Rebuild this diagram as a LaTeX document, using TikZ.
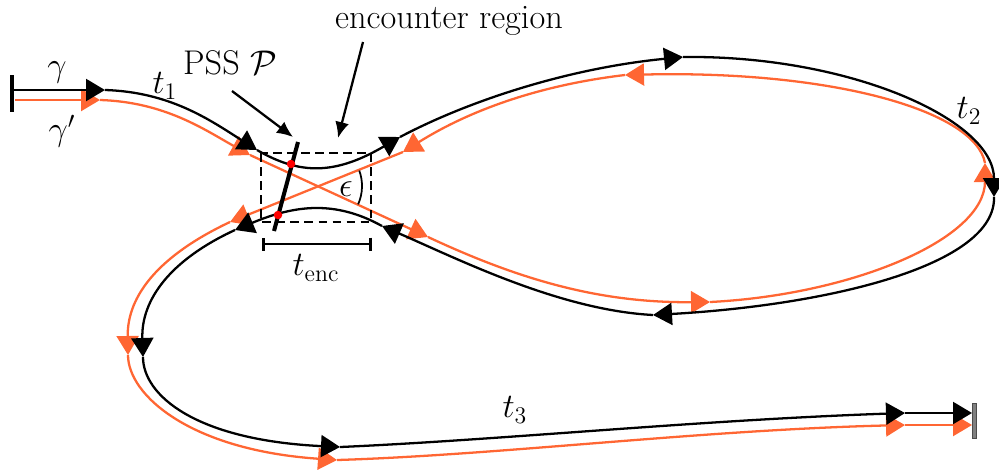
\documentclass[tikz,border=0pt]{standalone}
\usepackage{amsmath,amssymb}
\usepackage{tikz}
\usetikzlibrary{arrows.meta,positioning,calc}

\definecolor{orbitorange}{RGB}{255,102,51}

\begin{document}
\begin{tikzpicture}[
    x=0.02cm, y=-0.02cm,
    lbl/.style={font=\LARGE, scale=1.13},
    orbit/.style={
        line width=1.3pt,
        -{Triangle[length=0.38cm,width=0.44cm]}
    },
    gam/.style={orbit, draw=black},
    gamp/.style={orbit, draw=orbitorange},
    pointer/.style={
        line width=1.3pt,
        -{Latex[length=0.32cm,width=0.28cm]}
    },
    pssdot/.style={
        circle,
        fill=red,
        inner sep=0pt,
        minimum size=0.17cm
    }
]

\useasboundingbox (0,0) rectangle (999,471);

% ------------------------------------------------
% Points of gamma' (orange)
% ------------------------------------------------

\coordinate (o0) at (15,100);
\coordinate (o1) at (100,100);
\coordinate (o2) at (250,155);
\coordinate (o3) at (428,237);
\coordinate (o4) at (710,302);
\coordinate (o5) at (985,163);
\coordinate (o6) at (625,75);
\coordinate (o7) at (403,152);
\coordinate (o8) at (230,222);
\coordinate (o9) at (128,355);
\coordinate (o10) at (337,460);
\coordinate (o11) at (905,425);
\coordinate (o12) at (972,425);

% ------------------------------------------------
% Points of gamma (black)
% ------------------------------------------------

\coordinate (b0) at (12,90);
\coordinate (b1) at (105,90);
\coordinate (b2) at (257,150);
\coordinate (b3) at (400,137);
\coordinate (b4) at (683,57);
\coordinate (b5) at (994,197);
\coordinate (b6) at (653,315);
\coordinate (b7) at (382,226);
\coordinate (b8) at (235,230);
\coordinate (b9) at (143,357);
\coordinate (b10) at (340,447);
\coordinate (b11) at (905,413);
\coordinate (b12) at (972,413);

% ------------------------------------------------
% Orbit gamma'
% ------------------------------------------------

\draw[gamp] (o0) -- (o1);
\draw[gamp] (o1) .. controls (165,102) and (205,130) .. (o2);
\draw[gamp] (o2) -- (o3);
\draw[gamp] (o3) .. controls (520,280) and (600,303) .. (o4);
\draw[gamp] (o4) .. controls (850,295) and (985,240) .. (o5);
\draw[gamp] (o5) .. controls (975,110) and (830,70) .. (o6);
\draw[gamp] (o6) .. controls (540,85) and (470,110) .. (o7);
\draw[gamp] (o7) -- (o8);
\draw[gamp] (o8) .. controls (160,255) and (127,295) .. (o9);
\draw[gamp] (o9) .. controls (128,395) and (190,450) .. (o10);
\draw[gamp] (o10) .. controls (500,455) and (700,430) .. (o11);
\draw[gamp] (o11) -- (o12);

% ------------------------------------------------
% Orbit gamma
% ------------------------------------------------

\draw[gam] (b0) -- (b1);
\draw[gam] (b1) .. controls (170,92) and (210,120) .. (b2);
\draw[gam] (b2) .. controls (300,175) and (335,175) .. (b3);
\draw[gam] (b3) .. controls (470,100) and (570,68) .. (b4);
\draw[gam] (b4) .. controls (850,55) and (994,120) .. (b5);
\draw[gam] (b5) .. controls (996,265) and (830,305) .. (b6);
\draw[gam] (b6) .. controls (560,310) and (460,260) .. (b7);
\draw[gam] (b7) .. controls (335,200) and (295,205) .. (b8);
\draw[gam] (b8) .. controls (170,260) and (141,300) .. (b9);
\draw[gam] (b9) .. controls (143,395) and (195,440) .. (b10);
\draw[gam] (b10) .. controls (500,440) and (700,420) .. (b11);
\draw[gam] (b11) -- (b12);

% start and end bars
\draw[line width=2.2pt] (12,75) -- (12,112);
\draw[fill=gray, draw=black!70, line width=0.5pt] (972,403) rectangle (976,438);

% ------------------------------------------------
% Encounter region
% ------------------------------------------------

\draw[dash pattern=on 5pt off 3pt, line width=1.2pt] (261,153) rectangle (371,222);

\coordinate (cross) at (317,186);
\draw[line width=1pt] ($(cross)+(-20:45)$) arc[start angle=-20, end angle=24, radius=45];
\node[lbl] (eps) at (346,189) {$\epsilon$};

% Poincare surface of section
\coordinate (pssA) at (298,142);
\coordinate (pssB) at (274,231);
\draw[line width=2.3pt] (pssA) -- (pssB);
\node[pssdot] (dotup) at (291,164) {};
\node[pssdot] (dotlow) at (278,215) {};

% encounter time
\coordinate (encL) at (262,244);
\coordinate (encR) at (372,244);
\draw[line width=1.5pt, {Bar[width=0.26cm]}-{Bar[width=0.26cm]}] (encL) -- (encR);
\node[lbl] (tenc) at (316,268) {$t_{\mathrm{enc}}$};

% ------------------------------------------------
% Labels
% ------------------------------------------------

\node[lbl] (gamlabel) at (57,72) {$\gamma$};
\node[lbl] (gamplabel) at (62,131) {$\gamma'$};
\node[lbl] (tonelabel) at (165,86) {$t_1$};
\node[lbl] (ttwolabel) at (969,111) {$t_2$};
\node[lbl] (tthreelabel) at (515,410) {$t_3$};

\node[lbl, inner sep=0pt] (pss) at (230,63) {PSS $\mathcal{P}$};
\node[lbl, inner sep=0pt] (encregion) at (449,21) {encounter region};

\coordinate (psstail) at (232,91);
\coordinate (psshead) at (293,137);
\coordinate (enctail) at (363,42);
\coordinate (enchead) at (338,138);
\draw[pointer] (psstail) -- (psshead);
\draw[pointer] (enctail) -- (enchead);

\end{tikzpicture}
\end{document}
